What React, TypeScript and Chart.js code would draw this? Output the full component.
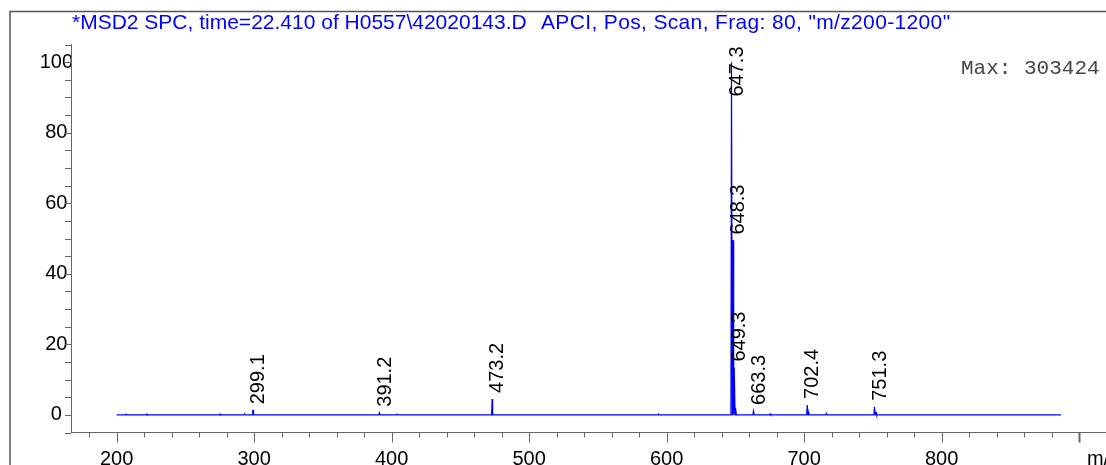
import React, { useEffect, useRef } from 'react';
import { Chart, registerables } from 'chart.js';

Chart.register(...registerables);

// ---- data ----
const peakMz = [207.1, 222.0, 275.2, 293.1, 299.1, 391.2, 404.2, 473.2, 594.3, 647.3, 648.3, 649.3, 650.3, 663.3, 675.3, 702.4, 703.4, 716.3, 751.3, 752.3];
const peakIntensity = [0.2, 0.2, 0.2, 0.3, 1.3, 0.6, 0.2, 4.5, 0.2, 100, 49.4, 13.4, 2.0, 1.1, 0.3, 2.8, 0.8, 0.4, 2.3, 0.7];
const labeledPeaks = [299.1, 391.2, 473.2, 647.3, 648.3, 649.3, 663.3, 702.4, 751.3];
const scanStart = 200;
const scanEnd = 887;
const xMin = 166.8;
const xMax = 919.6;
const yMin = -5;
const yMax = 105;
const titleLeft = '*MSD2 SPC, time=22.410 of H0557\\42020143.D';
const titleRight = 'APCI, Pos, Scan, Frag: 80, "m/z200-1200"';
const maxText = 'Max: 303424';
const axisUnit = 'm/z';

function buildSpectrum() {
  const pts: { x: number; y: number }[] = [{ x: scanStart, y: 0 }];
  peakMz.forEach((mz, i) => {
    pts.push({ x: mz - 0.5, y: 0 });
    pts.push({ x: mz - 0.1, y: peakIntensity[i] });
    pts.push({ x: mz + 0.1, y: peakIntensity[i] });
    pts.push({ x: mz + 0.5, y: 0 });
  });
  pts.push({ x: scanEnd, y: 0 });
  return pts;
}

const LABEL_FONT = '20px "Liberation Sans", Arial, sans-serif';

const decorPlugin = {
  id: 'decor',
  beforeDraw(chart: any) {
    const ctx = chart.ctx;
    ctx.save();
    ctx.strokeStyle = '#555';
    ctx.lineWidth = 1.5;
    ctx.beginPath();
    ctx.moveTo(10, 465);
    ctx.lineTo(10, 11.5);
    ctx.lineTo(1106, 11.5);
    ctx.stroke();
    ctx.restore();
  },
  afterDraw(chart: any) {
    const ctx = chart.ctx;
    const xs = chart.scales.x;
    const ys = chart.scales.y;
    const area = chart.chartArea;
    ctx.save();
    // tick marks
    ctx.strokeStyle = '#666';
    ctx.lineWidth = 1;
    xs.ticks.forEach((t: any) => {
      const px = Math.round(xs.getPixelForValue(t.value)) + 0.5;
      const major = t.value % 100 === 0;
      ctx.lineWidth = t.value === 900 ? 2 : 1;
      ctx.beginPath();
      ctx.moveTo(px, area.bottom);
      ctx.lineTo(px, area.bottom + (major ? 10 : 5));
      ctx.stroke();
    });
    ctx.lineWidth = 1;
    ys.ticks.forEach((t: any) => {
      const py = Math.round(ys.getPixelForValue(t.value)) + 0.5;
      ctx.beginPath();
      ctx.moveTo(area.left, py);
      ctx.lineTo(area.left - 6, py);
      ctx.stroke();
    });
    // m/z unit
    ctx.fillStyle = '#000';
    ctx.font = LABEL_FONT;
    ctx.textAlign = 'left';
    ctx.textBaseline = 'alphabetic';
    ctx.fillText(axisUnit, 1087, 465);
    // title
    ctx.fillStyle = '#0000ff';
    ctx.font = '21px "Liberation Sans", Arial, sans-serif';
    ctx.fillText(titleLeft, 72, 29);
    (ctx as any).letterSpacing = '0.35px';
    ctx.fillText(titleRight, 541, 29);
    (ctx as any).letterSpacing = '0px';
    // max
    ctx.fillStyle = '#444';
    ctx.font = '21px "Liberation Mono", "Courier New", monospace';
    ctx.fillText(maxText, 961, 74);
    // peak labels
    ctx.fillStyle = '#000';
    ctx.font = LABEL_FONT;
    ctx.textBaseline = 'middle';
    ctx.textAlign = 'left';
    labeledPeaks.forEach((mz) => {
      const idx = peakMz.indexOf(mz);
      const inten = peakIntensity[idx];
      const label = mz.toFixed(1);
      const w = ctx.measureText(label).width;
      const px = xs.getPixelForValue(mz);
      const py = ys.getPixelForValue(inten);
      const startY = Math.max(py - 6, area.top + w + 2);
      ctx.save();
      ctx.translate(px + 5.5, startY);
      ctx.rotate(-Math.PI / 2);
      ctx.fillText(label, 0, 0);
      ctx.restore();
    });
    ctx.restore();
  },
};

export default function App() {
  const ref = useRef<HTMLCanvasElement>(null);
  useEffect(() => {
    if (!ref.current) return;
    const chart = new Chart(ref.current, {
      type: 'line',
      data: {
        datasets: [
          {
            data: buildSpectrum(),
            borderColor: '#0000ff',
            borderWidth: 1.2,
            pointRadius: 0,
            tension: 0,
            fill: false,
          },
        ],
      },
      options: {
        animation: false,
        responsive: false,
        devicePixelRatio: 1,
        parsing: false as any,
        layout: { padding: { left: 0, top: 44.5, right: 0, bottom: 0 } },
        plugins: { legend: { display: false }, tooltip: { enabled: false }, title: { display: false } },
        scales: {
          x: {
            type: 'linear',
            min: xMin,
            max: xMax,
            border: { color: '#666', width: 1 },
            grid: { drawOnChartArea: false, drawTicks: false },
            ticks: {
              stepSize: 20,
              includeBounds: false,
              autoSkip: false,
              maxRotation: 0,
              padding: 15,
              color: '#000',
              font: { family: '"Liberation Sans", Arial, sans-serif', size: 20 },
              callback: (v: any) => (v % 100 === 0 && v < 900 ? String(v) : ''),
            },
            afterFit: (s: any) => {
              s.height = 465 - 432.5;
            },
          },
          y: {
            type: 'linear',
            min: yMin,
            max: yMax,
            border: { color: '#666', width: 1 },
            grid: { drawOnChartArea: false, drawTicks: false },
            ticks: {
              stepSize: 5,
              includeBounds: false,
              autoSkip: false,
              crossAlign: 'center',
              padding: -2,
              color: '#000',
              font: { family: '"Liberation Sans", Arial, sans-serif', size: 20 },
              callback: (v: any) => (v % 20 === 0 ? String(v) : ''),
            },
            afterFit: (s: any) => {
              s.width = 71;
            },
          },
        },
      },
      plugins: [decorPlugin],
    });
    return () => chart.destroy();
  }, []);
  return (
    <div style={{ position: 'absolute', left: 0, top: 0, width: 1106, height: 465, background: '#fff' }}>
      <canvas ref={ref} width={1106} height={465} style={{ width: 1106, height: 465, display: 'block' }} />
    </div>
  );
}
